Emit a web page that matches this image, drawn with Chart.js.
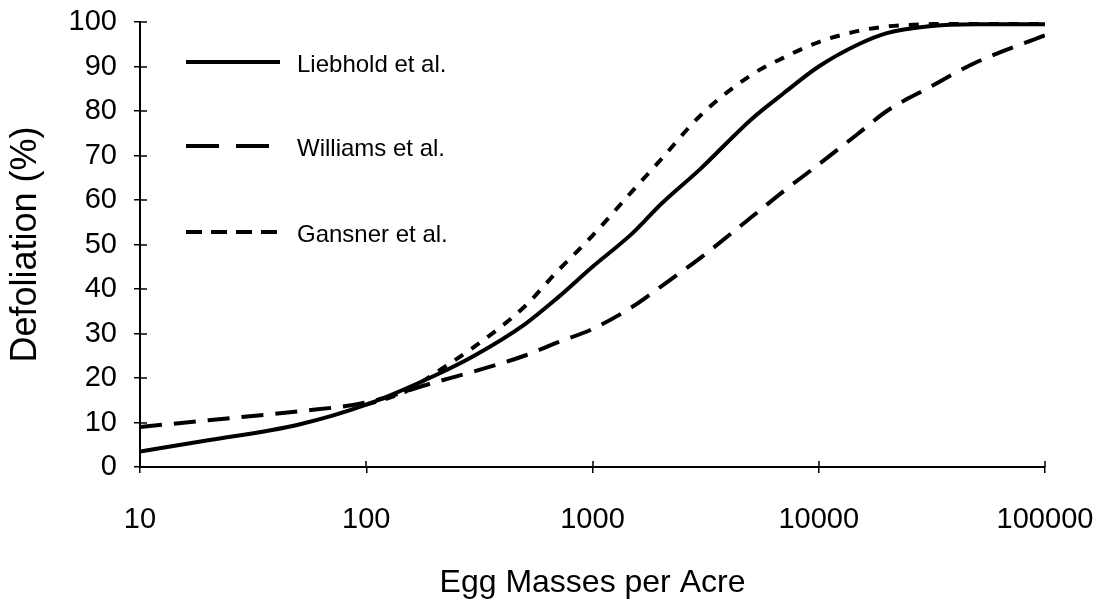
<!DOCTYPE html>
<html>
<head>
<meta charset="utf-8">
<script src="https://cdn.jsdelivr.net/npm/chart.js@4"></script>
<style>
  html, body { margin: 0; padding: 0; background: #fff; }
  #wrap { width: 1106px; height: 610px; }
</style>
</head>
<body>
<div id="wrap"><canvas id="c" width="1106" height="610"></canvas></div>
<script>
// ---- data ----
const seriesNames = ["Liebhold et al.", "Williams et al.", "Gansner et al."];

const liebholdX = [10, 20, 50, 100, 200, 300, 500, 700, 1000, 1500, 2000, 3000, 5000, 7000, 10000, 15000, 20000, 30000, 50000, 100000];
const liebholdY = [3.5, 6.0, 9.5, 14, 20.5, 25, 32, 38, 45, 52.5, 59, 67, 78, 84, 90, 95, 97.5, 99, 99.5, 99.5];

const williamsX = [10, 20, 50, 100, 200, 300, 500, 700, 1000, 1500, 2000, 3000, 5000, 7000, 10000, 15000, 20000, 30000, 50000, 100000];
const williamsY = [9, 10.5, 12.5, 14.5, 19, 21.5, 25, 28, 31, 36, 40.5, 47, 56, 62, 68, 75, 80, 85, 91, 97];

const gansnerX = [100, 150, 200, 300, 500, 700, 1000, 1500, 2000, 3000, 5000, 7000, 10000, 15000, 20000, 30000, 50000, 100000];
const gansnerY = [14, 17, 21, 27, 36, 44, 52, 62, 69, 79, 88, 92, 95.5, 98, 99, 99.5, 99.7, 99.8];

const xTickValues = [10, 100, 1000, 10000, 100000];
const yTickValues = [0, 10, 20, 30, 40, 50, 60, 70, 80, 90, 100];

const xTitle = "Egg Masses per Acre";
const yTitle = "Defoliation (%)";

// ---- build ----
const toPts = (xs, ys) => xs.map((x, i) => ({ x: x, y: ys[i] }));

const legendDash = [[], [33, 17], [16, 9]];

const innerTicks = {
  id: 'innerTicks',
  afterDraw(chart) {
    const ctx = chart.ctx;
    const xs = chart.scales.x, ys = chart.scales.y;
    const ca = chart.chartArea;
    ctx.save();
    ctx.strokeStyle = '#000';
    ctx.lineWidth = 1.5;
    ctx.beginPath();
    xTickValues.forEach(v => {
      const px = Math.round(xs.getPixelForValue(v));
      ctx.moveTo(px, ca.bottom);
      ctx.lineTo(px, ca.bottom - 6);
    });
    yTickValues.forEach(v => {
      const py = Math.round(ys.getPixelForValue(v));
      ctx.moveTo(ca.left, py);
      ctx.lineTo(ca.left + 7, py);
    });
    ctx.stroke();
    ctx.restore();
  }
};

const customLegend = {
  id: 'customLegend',
  afterDraw(chart) {
    const ctx = chart.ctx;
    const rows = [62, 146, 232];
    ctx.save();
    chart.data.datasets.forEach((ds, i) => {
      const y = rows[i];
      ctx.strokeStyle = ds.borderColor;
      ctx.lineWidth = ds.borderWidth;
      ctx.lineCap = 'butt';
      ctx.setLineDash(legendDash[i]);
      ctx.beginPath();
      ctx.moveTo(186, y);
      ctx.lineTo(280, y);
      ctx.stroke();
      ctx.setLineDash([]);
      ctx.fillStyle = '#000';
      ctx.font = '24px "Liberation Sans", Arial, sans-serif';
      ctx.textBaseline = 'middle';
      ctx.textAlign = 'left';
      ctx.fillText(ds.label, 297, y + 3);
    });
    ctx.restore();
  }
};

const fontTick = { family: '"Liberation Sans", Arial, sans-serif', size: 29 };
const fontTitle = { family: '"Liberation Sans", Arial, sans-serif', size: 32 };
const fontYTitle = { family: '"Liberation Sans", Arial, sans-serif', size: 36 };

new Chart(document.getElementById('c'), {
  type: 'line',
  data: {
    datasets: [
      { label: seriesNames[0], data: toPts(liebholdX, liebholdY), borderColor: '#000', borderWidth: 4, pointRadius: 0, cubicInterpolationMode: 'monotone', fill: false },
      { label: seriesNames[1], data: toPts(williamsX, williamsY), borderColor: '#000', borderWidth: 4, borderDash: [22, 12], pointRadius: 0, cubicInterpolationMode: 'monotone', fill: false },
      { label: seriesNames[2], data: toPts(gansnerX, gansnerY), borderColor: '#000', borderWidth: 4, borderDash: [10, 10], pointRadius: 0, cubicInterpolationMode: 'monotone', fill: false }
    ]
  },
  options: {
    responsive: false,
    animation: false,
    devicePixelRatio: 1,
    layout: { padding: { top: 22, right: 61, left: 0, bottom: 0 } },
    plugins: { legend: { display: false }, tooltip: { enabled: false } },
    scales: {
      x: {
        type: 'logarithmic',
        min: 10, max: 100000,
        afterBuildTicks: s => { s.ticks = xTickValues.map(v => ({ value: v })); },
        afterFit: s => { s.height = 143; s.paddingLeft = 0; s.paddingRight = 0; },
        ticks: { color: '#000', font: fontTick, padding: 30, maxRotation: 0, autoSkip: false,
                 callback: v => String(v) },
        grid: { drawOnChartArea: false, color: '#000', lineWidth: 1.5, tickLength: 6 },
        border: { color: '#000', width: 2 },
        title: { display: true, text: xTitle, color: '#000', font: fontTitle, padding: { top: 0, bottom: 8 } }
      },
      y: {
        type: 'linear',
        min: 0, max: 100,
        afterBuildTicks: s => { s.ticks = yTickValues.map(v => ({ value: v })); },
        afterFit: s => { s.width = 140; s.paddingTop = 0; s.paddingBottom = 0; },
        ticks: { color: '#000', font: fontTick, padding: 17, callback: v => String(v) },
        grid: { drawOnChartArea: false, color: '#000', lineWidth: 1.5, tickLength: 6 },
        border: { color: '#000', width: 2 },
        title: { display: true, text: yTitle, color: '#000', font: fontYTitle, padding: { top: 4, bottom: 0 } }
      }
    }
  },
  plugins: [innerTicks, customLegend]
});
</script>
</body>
</html>
